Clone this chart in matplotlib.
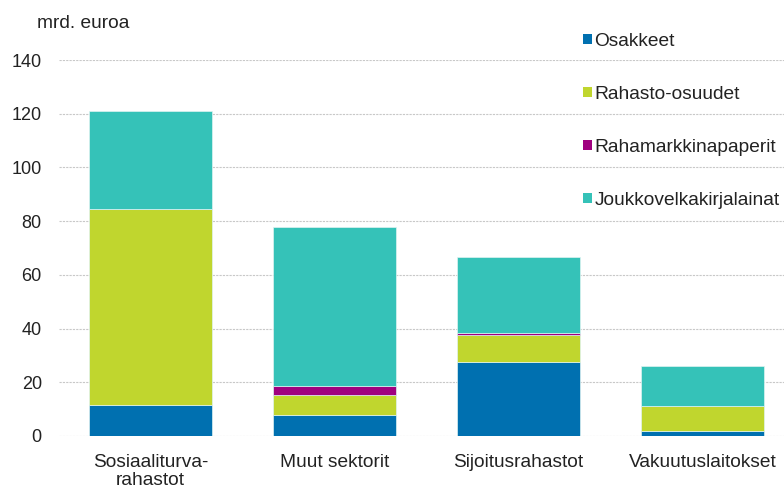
import numpy as np
import matplotlib.pyplot as plt
from matplotlib.patches import Patch

plt.rcParams['font.family'] = ['Liberation Sans', 'DejaVu Sans']

categories = ['Sosiaaliturva-\nrahastot', 'Muut sektorit', 'Sijoitusrahastot', 'Vakuutuslaitokset']
series = ['Osakkeet', 'Rahasto-osuudet', 'Rahamarkkinapaperit', 'Joukkovelkakirjalainat']
osakkeet = [11.5, 7.9, 27.7, 2.0]
rahasto = [73.0, 7.3, 9.9, 9.2]
rahamarkkina = [0.0, 3.5, 0.9, 0.1]
joukko = [36.5, 59.3, 28.0, 14.6]
colors = ['#0070b0', '#c0d62e', '#a0007f', '#35c2b8']

values = [osakkeet, rahasto, rahamarkkina, joukko]

fig = plt.figure(figsize=(7.84, 4.88), dpi=100)
ax = fig.add_axes([58.5/784, 52/488, 736/784, 376/488])

x = np.arange(len(categories))
bottom = np.zeros(len(categories))
for vals, col in zip(values, colors):
    ax.bar(x, vals, bottom=bottom, width=0.67, color=col, edgecolor='#dff3f1', linewidth=0.5, zorder=3)
    bottom += np.array(vals)

ax.set_xlim(-0.5, 3.5)
ax.set_ylim(0, 140)
ax.set_yticks(np.arange(0, 141, 20))
ax.set_xticks(x)
ax.set_xticklabels(categories, fontsize=13.8, color='#222222', linespacing=1.05)
ax.tick_params(axis='both', length=0, labelcolor='#222222')
ax.tick_params(axis='y', pad=12, labelsize=13)
ax.tick_params(axis='x', pad=13)
ax.yaxis.grid(True, color='#c8c8c8', linestyle=(0, (2, 1)), linewidth=0.8, zorder=0)
for s in ax.spines.values():
    s.set_visible(False)

fig.text(37/784, 1 - 24/488, 'mrd. euroa', fontsize=13.8, color='#222222', va='center')

handles = [Patch(facecolor=c, edgecolor='none') for c in colors]
leg = fig.legend(handles, series, loc='upper left', bbox_to_anchor=(583/784, 1 - 33/488),
                 frameon=False, fontsize=13.8, handlelength=0.45, handleheight=0.45,
                 handletextpad=0.15, labelspacing=1.87, borderaxespad=0, borderpad=0)
for t in leg.get_texts():
    t.set_color('#222222')

fig.savefig('out.png', dpi=100)
